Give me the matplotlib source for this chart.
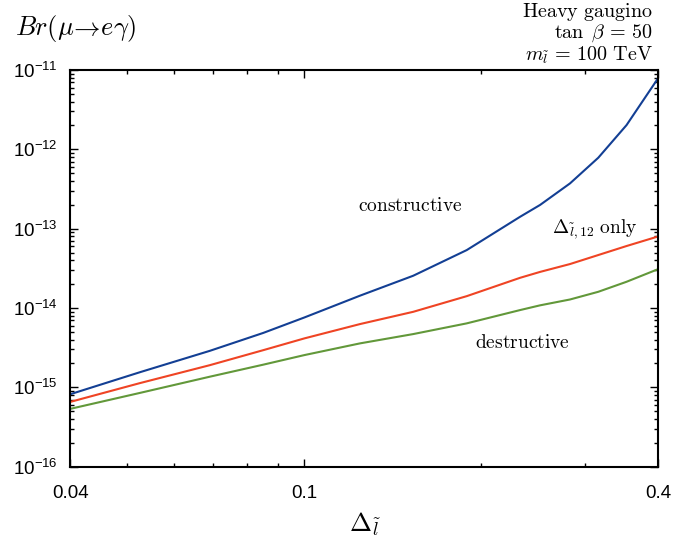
import matplotlib
matplotlib.use('Agg')
import matplotlib.pyplot as plt
from matplotlib.ticker import FixedLocator, NullFormatter

plt.rcParams['font.family'] = ['Liberation Sans', 'DejaVu Sans']
plt.rcParams['mathtext.fontset'] = 'cm'

# values
delta = [0.04, 0.0525, 0.0690, 0.0851, 0.1, 0.1243, 0.1531, 0.1888, 0.2326,
         0.2516, 0.2829, 0.316, 0.353, 0.4]
br_constructive = [8.2e-16, 1.55e-15, 2.88e-15, 4.85e-15, 7.6e-15, 1.43e-14, 2.55e-14, 5.37e-14,
                   1.41e-13, 1.99e-13, 3.72e-13, 7.83e-13, 2.02e-12, 8.0e-12]
br_only = [6.56e-16, 1.13e-15, 1.90e-15, 2.94e-15, 4.14e-15, 6.27e-15, 8.95e-15, 1.41e-14,
           2.40e-14, 2.85e-14, 3.58e-14, 4.65e-14, 6.04e-14, 8.0e-14]
br_destructive = [5.36e-16, 8.5e-16, 1.36e-15, 1.93e-15, 2.55e-15, 3.58e-15, 4.69e-15, 6.40e-15,
                  9.41e-15, 1.08e-14, 1.28e-14, 1.60e-14, 2.14e-14, 3.1e-14]
xticks = [0.04, 0.1, 0.4]
xticklabels = ['0.04', '0.1', '0.4']
xminor = [0.05, 0.06, 0.07, 0.08, 0.09, 0.2, 0.3]
yticks = [1e-16, 1e-15, 1e-14, 1e-13, 1e-12, 1e-11]
yticklabels = [r'$\mathdefault{10^{-16}}$', r'$\mathdefault{10^{-15}}$', r'$\mathdefault{10^{-14}}$',
               r'$\mathdefault{10^{-13}}$', r'$\mathdefault{10^{-12}}$', r'$\mathdefault{10^{-11}}$']
yminor = [m * 10.0 ** e for e in range(-16, -11) for m in range(2, 10)]

fig = plt.figure(figsize=(6.97, 5.49), dpi=100)
ax = fig.add_axes([0.1011, 0.150, 0.8436, 0.7225])

ax.plot(delta, br_constructive, color='#133f94', lw=1.5)
ax.plot(delta, br_only, color='#ef4424', lw=1.5)
ax.plot(delta, br_destructive, color='#62983a', lw=1.5)

ax.set_xscale('log')
ax.set_yscale('log')
ax.set_xlim(0.04, 0.4)
ax.set_ylim(1e-16, 1e-11)

ax.xaxis.set_major_locator(FixedLocator(xticks))
ax.set_xticklabels(xticklabels)
ax.xaxis.set_minor_locator(FixedLocator(xminor))
ax.xaxis.set_minor_formatter(NullFormatter())
ax.yaxis.set_major_locator(FixedLocator(yticks))
ax.set_yticklabels(yticklabels)
ax.yaxis.set_minor_locator(FixedLocator(yminor))
ax.yaxis.set_minor_formatter(NullFormatter())

ax.tick_params(which='both', direction='in', top=True, right=True, width=1)
ax.tick_params(which='major', length=6, labelsize=13.5)
ax.tick_params(which='minor', length=3)
ax.tick_params(axis='x', which='major', pad=13)
ax.tick_params(axis='y', which='major', pad=9)
for s in ax.spines.values():
    s.set_linewidth(1.5)

ax.set_xlabel(r'$\Delta_{\tilde{l}}$', fontsize=19, labelpad=6)

fig.text(15 / 697, 1 - 28 / 549, r'$Br(\mu\!\rightarrow\! e\gamma)$', fontsize=19,
         ha='left', va='center')
fig.text(653 / 697, 1 - 12 / 549, r'$\mathrm{Heavy\ gaugino}$', fontsize=14.5, ha='right', va='center')
fig.text(653 / 697, 1 - 33 / 549, r'$\tan\ \beta\,=\,50$', fontsize=14.5, ha='right', va='center')
fig.text(653 / 697, 1 - 55 / 549, r'$m_{\tilde{l}}\,=\,100\ \mathrm{TeV}$', fontsize=14.5,
         ha='right', va='center')

ax.text(0.1512, 1.93e-13, r'$\mathrm{constructive}$', fontsize=14, ha='center', va='center')
ax.text(0.312, 9.9e-14, r'$\Delta_{\tilde{l},12}\ \mathrm{only}$', fontsize=14, ha='center', va='center')
ax.text(0.235, 3.64e-15, r'$\mathrm{destructive}$', fontsize=14, ha='center', va='center')

fig.savefig('out.png', dpi=100)
